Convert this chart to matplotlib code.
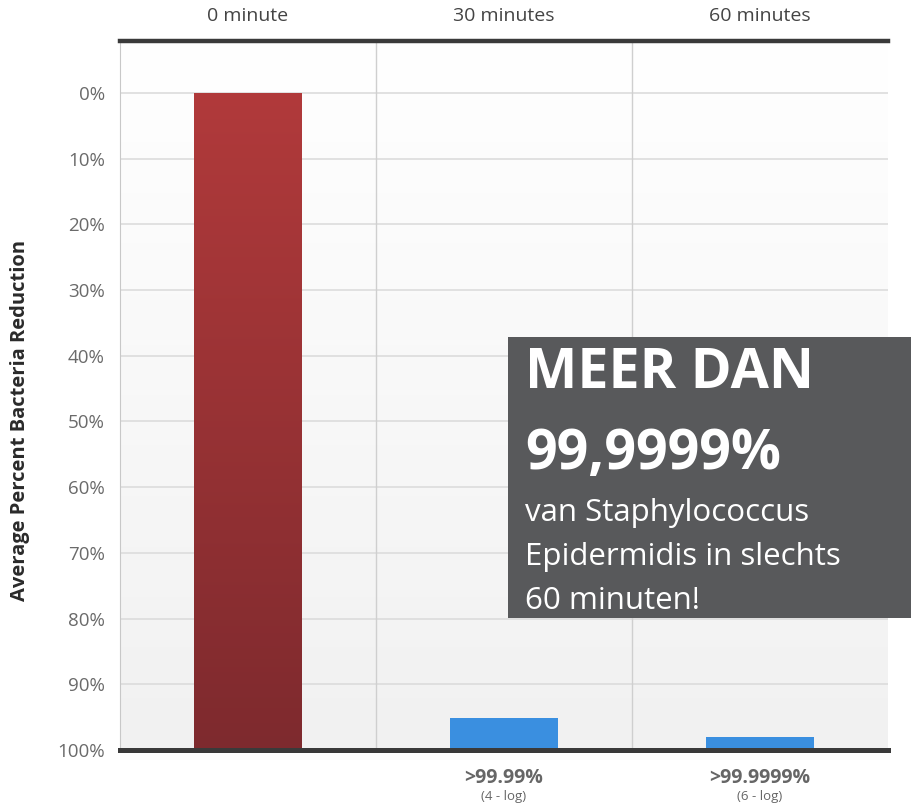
import numpy as np
import matplotlib
matplotlib.use("Agg")
import matplotlib.pyplot as plt
from matplotlib.colors import LinearSegmentedColormap

# data
categories = ["0 minute", "30 minutes", "60 minutes"]
bar_tops = [0, 95.2, 98.0]          # percent reduction at top of each bar
bar_colors = ["#a8363a", "#3a8fe0", "#3a8fe0"]
bottom_labels = ["", ">99.99%", ">99.9999%"]
bottom_sublabels = ["", "(4 - log)", "(6 - log)"]
y_ticks = list(range(0, 101, 10))
y_ticklabels = [f"{v}%" for v in y_ticks]

plt.rcParams["font.family"] = ["Open Sans", "DejaVu Sans"]

fig = plt.figure(figsize=(9.11, 8.05), dpi=100)
ax = fig.add_axes([120 / 911, 1 - 750 / 805, 768 / 911, 709 / 805])

x = np.arange(len(categories))
ax.set_xlim(-0.5, len(categories) - 0.5)
ax.set_ylim(100, -7.9)

# background gradient (white top -> light grey bottom)
bg = LinearSegmentedColormap.from_list("bg", ["#ffffff", "#f1f1f1"])
ax.imshow(np.linspace(0, 1, 256).reshape(-1, 1), cmap=bg, aspect="auto",
          extent=(-0.5, len(categories) - 0.5, 100, -7.9), zorder=0)

# grid
for v in y_ticks:
    ax.axhline(v, color="#dcdcdc", lw=1.2, zorder=1)
for xv in x[:-1] + 0.5:
    ax.axvline(xv, color="#cfcfcf", lw=1.0, zorder=1)

bars = ax.bar(x, [t - 100 for t in bar_tops], bottom=100, width=0.42,
              color=bar_colors, zorder=3)

# red bar gradient
red = LinearSegmentedColormap.from_list("red", ["#b13a3b", "#7e2a2e"])
b0 = bars[0]
b0.set_facecolor("none")
im = ax.imshow(np.linspace(0, 1, 256).reshape(-1, 1), cmap=red, aspect="auto",
               extent=(b0.get_x(), b0.get_x() + b0.get_width(), 100, bar_tops[0]),
               zorder=3)
im.set_clip_path(b0)
ax.set_xlim(-0.5, len(categories) - 0.5)
ax.set_ylim(100, -7.9)

# spines
for s in ["right", "bottom", "top"]:
    ax.spines[s].set_visible(False)
ax.spines["left"].set_color("#c8c8c8")
ax.axhline(-7.9, color="#3a3a3a", lw=3.2, zorder=5, clip_on=False)
ax.axhline(100, color="#3a3a3a", lw=3.6, zorder=5, clip_on=False)

ax.set_yticks(y_ticks)
ax.set_yticklabels(y_ticklabels, fontsize=13.5, color="#6a6a6a")
ax.tick_params(axis="y", length=0, pad=11)
ax.set_xticks([])

for xi, c in zip(x, categories):
    ax.text(xi, 1.035, c, transform=ax.get_xaxis_transform(), ha="center",
            va="center", fontsize=14, color="#444444")

for xi, lab, sub in zip(x, bottom_labels, bottom_sublabels):
    if lab:
        ax.text(xi, -0.039, lab, transform=ax.get_xaxis_transform(), ha="center",
                va="center", fontsize=14, fontweight="bold", color="#666666")
        ax.text(xi, -0.065, sub, transform=ax.get_xaxis_transform(), ha="center",
                va="center", fontsize=9.5, color="#666666")

fig.text(20 / 911, 1 - 420 / 805, "Average Percent Bacteria Reduction",
         rotation=90, ha="center", va="center", fontsize=14.5,
         fontweight="bold", color="#2a2a2a")

# overlay box
box = fig.add_axes([508 / 911, 1 - 618 / 805, 403 / 911, 281 / 805])
box.set_facecolor("#58595b")
box.set_xticks([])
box.set_yticks([])
for s in box.spines.values():
    s.set_visible(False)
box.text(17 / 403, 1 - 36 / 281, "MEER DAN", transform=box.transAxes,
         fontsize=40, fontweight="bold", color="white", va="center", ha="left")
box.text(17 / 403, 1 - 117 / 281, "99,9999%", transform=box.transAxes,
         fontsize=40, fontweight="bold", color="white", va="center", ha="left")
for i, line in enumerate(["van Staphylococcus", "Epidermidis in slechts", "60 minuten!"]):
    box.text(17 / 403, 1 - (176 + 44 * i) / 281, line, transform=box.transAxes,
             fontsize=22.5, color="white", va="center", ha="left")

fig.savefig("out.png", dpi=100)
